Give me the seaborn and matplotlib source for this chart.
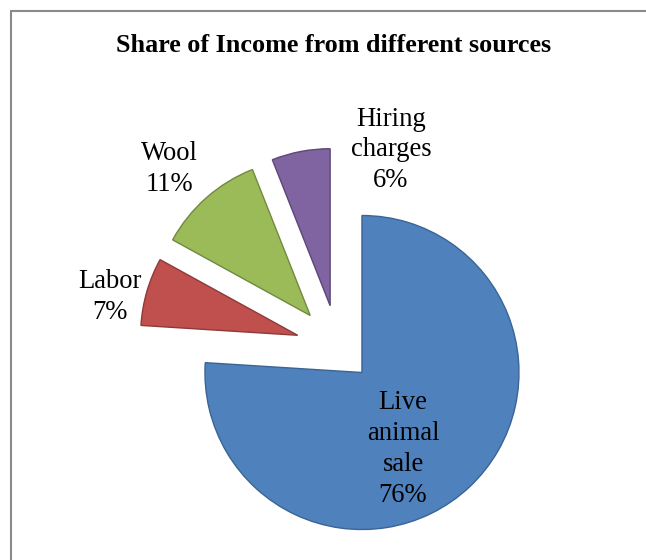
import matplotlib
matplotlib.use("Agg")
import matplotlib.pyplot as plt
import seaborn as sns
from matplotlib.lines import Line2D

categories = ["Live animal sale", "Labor", "Wool", "Hiring charges"]
values = [76, 7, 11, 6]
label_lines = ["Live\nanimal\nsale", "Labor", "Wool", "Hiring\ncharges"]
title = "Share of Income from different sources"

sns.set_style("white")
plt.rcParams['font.family'] = ['Liberation Serif', 'DejaVu Serif']

W, H = 646, 560
fig = plt.figure(figsize=(W / 100, H / 100), dpi=100)
ax = fig.add_axes([0, 0, 1, 1])

colors = ["#4F81BD", "#C0504D", "#9BBB59", "#8064A2"]
edges = ["#3A6494", "#8E3A38", "#71893F", "#5C4776"]

wedges, _ = ax.pie(values, startangle=90, counterclock=False,
                   radius=157, center=(338, H - 347),
                   explode=[35, 42, 42, 42], colors=colors,
                   frame=True)
for w, ec in zip(wedges, edges):
    w.set_edgecolor(ec)
    w.set_linewidth(1.0)
ax.set_xlim(0, W)
ax.set_ylim(0, H)
ax.set_aspect("auto")
ax.axis("off")

label_pos = [(403, 449), (110, 297), (169, 169), (391, 150)]
for lab, v, (x, y) in zip(label_lines, values, label_pos):
    ax.text(x, H - y, f"{lab}\n{v}%", ha="center", va="center",
            fontsize=19.2, linespacing=1.3, color="black")

fig.text(334 / W, 1 - 45 / H, title, ha="center", va="center",
         fontsize=18.8, fontweight="bold", color="black")

fig.add_artist(Line2D([11 / W, 11 / W], [0, 1 - 11 / H], color="#8A8A8A", lw=1.5))
fig.add_artist(Line2D([11 / W, 1], [1 - 11 / H, 1 - 11 / H], color="#8A8A8A", lw=1.5))

fig.savefig("out.png", dpi=100)
